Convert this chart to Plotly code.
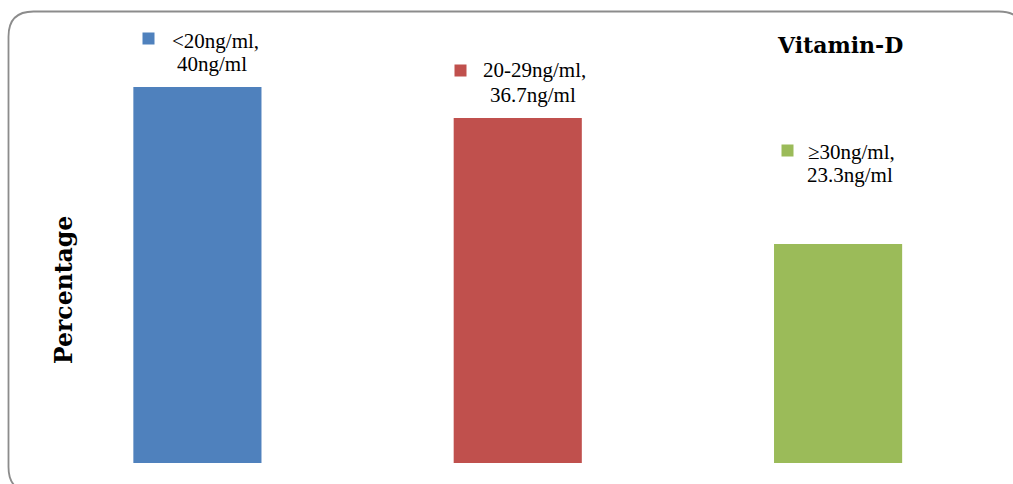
import plotly.graph_objects as go

# Vitamin-D levels: share of participants in each range (%)
categories = ["<20ng/ml", "20-29ng/ml", "≥30ng/ml"]
percent = [40, 36.7, 23.3]
label_first = ["<20ng/ml,", "20-29ng/ml,", "≥30ng/ml,"]
label_second = ["40ng/ml", "36.7ng/ml", "23.3ng/ml"]
colors = ["#4F81BD", "#C0504D", "#9BBB59"]

W, H = 1013, 484


def px(x):
    return x / W


def py(y):
    return 1 - y / H


fig = go.Figure(
    go.Bar(
        x=list(range(len(categories))),
        y=percent,
        marker=dict(color=colors, line=dict(width=0)),
        width=0.4,
        hoverinfo="skip",
        showlegend=False,
    )
)

label_font = dict(family="Liberation Serif, Times New Roman, serif", size=21, color="#000000")

# per-bar offsets (pixels) of the key square and the two label lines
key_shift = [(-49, 48), (-57, 48), (-51, 93)]
line1_shift = [(18, 46), (17, 48), (13, 92)]
line2_shift = [(15, 23), (15, 23), (12, 69)]

annotations = []
for i, v in enumerate(percent):
    kx, ky = key_shift[i]
    annotations.append(dict(
        x=i, y=v, xref="x", yref="y", xshift=kx, yshift=ky,
        text=" ", showarrow=False, width=11, height=11, borderpad=0,
        bgcolor=colors[i], xanchor="center", yanchor="middle",
        font=dict(size=6),
    ))
    ax1, ay1 = line1_shift[i]
    annotations.append(dict(
        x=i, y=v, xref="x", yref="y", xshift=ax1, yshift=ay1,
        text=label_first[i], showarrow=False, font=label_font,
        xanchor="center", yanchor="middle",
    ))
    ax2, ay2 = line2_shift[i]
    annotations.append(dict(
        x=i, y=v, xref="x", yref="y", xshift=ax2, yshift=ay2,
        text=label_second[i], showarrow=False, font=label_font,
        xanchor="center", yanchor="middle",
    ))

annotations.append(dict(
    x=px(840), y=py(45), xref="paper", yref="paper",
    text="<b>Vitamin-D</b>", showarrow=False,
    font=dict(family="DejaVu Serif, serif", size=22, color="#000000"),
    xanchor="center", yanchor="middle",
))
annotations.append(dict(
    x=px(64), y=py(290), xref="paper", yref="paper",
    text="<b>Percentage</b>", showarrow=False,
    font=dict(family="DejaVu Serif, serif", size=23.5, color="#000000"),
    textangle=-90, xanchor="center", yanchor="middle",
))

# rounded outer frame of the chart area
L, T, R, B, r = 8.5, 11.5, 1024, 492, 25
pts = [
    ("M", L, T + r), ("Q", L, T, L + r, T), ("L", R - r, T), ("Q", R, T, R, T + r),
    ("L", R, B - r), ("Q", R, B, R - r, B), ("L", L + r, B), ("Q", L, B, L, B - r),
]
path = ""
for seg in pts:
    cmd, coords = seg[0], seg[1:]
    xy = []
    for j in range(0, len(coords), 2):
        xy.append(f"{px(coords[j]):.5f},{py(coords[j + 1]):.5f}")
    path += cmd + " " + " ".join(xy) + " "
path += "Z"

fig.update_layout(
    width=W,
    height=H,
    margin=dict(l=0, r=0, t=0, b=0),
    paper_bgcolor="#FFFFFF",
    plot_bgcolor="#FFFFFF",
    bargap=0.6,
    xaxis=dict(
        domain=[px(37.25), px(998.25)],
        range=[-0.5, 2.5],
        showticklabels=False, showgrid=False, zeroline=False, showline=False, ticks="",
    ),
    yaxis=dict(
        domain=[py(463), py(40)],
        range=[0, 45],
        showticklabels=False, showgrid=False, zeroline=False, showline=False, ticks="",
    ),
    annotations=annotations,
    shapes=[dict(
        type="path", path=path, xref="paper", yref="paper",
        line=dict(color="#8C8C8C", width=1.8), fillcolor="rgba(0,0,0,0)", layer="below",
    )],
)

fig.write_html("out.html")
